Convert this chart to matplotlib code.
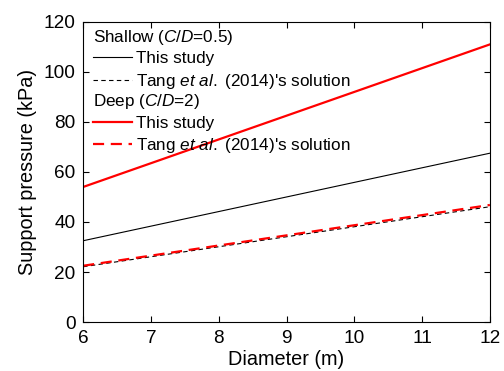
import matplotlib
matplotlib.use("Agg")
import matplotlib.pyplot as plt
from matplotlib.text import Text
from matplotlib.legend_handler import HandlerBase

plt.rcParams['font.family'] = ['Liberation Sans', 'DejaVu Sans']
plt.rcParams['mathtext.fontset'] = 'custom'
plt.rcParams['mathtext.it'] = 'Liberation Sans:italic'
plt.rcParams['mathtext.rm'] = 'Liberation Sans'

# data (endpoints of the straight lines)
diameter = [6, 12]
shallow_this = [32.5, 67.5]
shallow_tang = [22.1, 46.1]
deep_this = [54.0, 111.0]
deep_tang = [22.5, 46.8]


class Header:
    def __init__(self, text):
        self.text = text


class HeaderHandler(HandlerBase):
    # draws the group title where the line sample would go
    def create_artists(self, legend, orig_handle, xdescent, ydescent,
                       width, height, fontsize, trans):
        t = Text(-xdescent, -ydescent + height / 2.0, orig_handle.text,
                 va='center', ha='left', fontsize=fontsize, transform=trans)
        return [t]


fig = plt.figure(figsize=(5.04, 3.71), dpi=100)
ax = fig.add_axes([0.165, 0.132, 0.807, 0.809])

l1, = ax.plot(diameter, shallow_this, color='black', lw=0.8)
l2, = ax.plot(diameter, shallow_tang, color='black', lw=0.8, ls=(0, (4, 3)))
l3, = ax.plot(diameter, deep_this, color='red', lw=1.6)
l4, = ax.plot(diameter, deep_tang, color='red', lw=1.6, ls=(0, (5, 3)))

ax.set_xlim(6, 12)
ax.set_ylim(0, 120)
ax.set_xticks(range(6, 13))
ax.set_yticks(range(0, 121, 20))
ax.tick_params(direction='in', top=True, right=True, labelsize=13.7,
               length=4.3, pad=5.5)
ax.set_xlabel("Diameter (m)", fontsize=14.3, labelpad=2.5)
ax.set_ylabel("Support pressure (kPa)", fontsize=14.3, labelpad=5)

h1 = Header(r"Shallow ($\it{C}$/$\it{D}$=0.5)")
h2 = Header(r"Deep ($\it{C}$/$\it{D}$=2)")
tang = r"Tang $\it{et}$ $\it{al.}$ (2014)'s solution"
handles = [h1, l1, l2, h2, l3, l4]
labels = ["", "This study", tang, "", "This study", tang]
ax.legend(handles, labels, handler_map={Header: HeaderHandler()},
          loc='upper left', frameon=False, fontsize=12.3,
          handlelength=2.3, handletextpad=0.25, labelspacing=0.3,
          borderaxespad=0.15, bbox_to_anchor=(0.0, 1.0))

fig.savefig("out.png", dpi=100)
